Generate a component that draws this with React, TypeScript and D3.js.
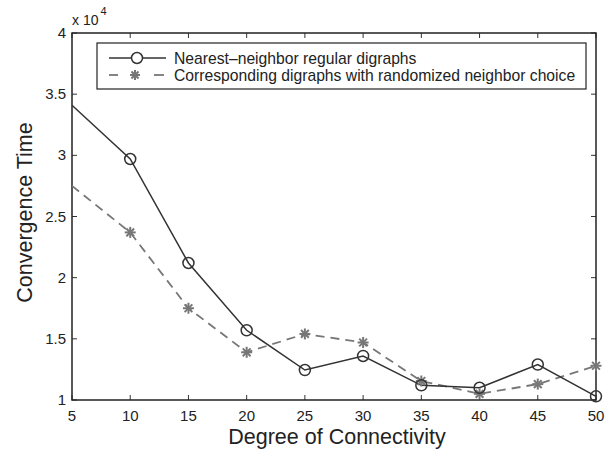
import React, { useRef, useEffect } from 'react';
import * as d3 from 'd3';

const degrees = [5, 10, 15, 20, 25, 30, 35, 40, 45, 50];
const nearestNeighbor = [3.41, 2.97, 2.12, 1.57, 1.245, 1.36, 1.12, 1.1, 1.29, 1.03];
const randomized = [2.75, 2.37, 1.75, 1.39, 1.54, 1.47, 1.155, 1.05, 1.13, 1.28];
const xTicks = [5, 10, 15, 20, 25, 30, 35, 40, 45, 50];
const yTicks = [1, 1.5, 2, 2.5, 3, 3.5, 4];
const legendLabels = [
  'Nearest\u2013neighbor regular digraphs',
  'Corresponding digraphs with randomized neighbor choice',
];

export default function App() {
  const ref = useRef<SVGSVGElement | null>(null);

  useEffect(() => {
    if (!ref.current) return;
    const svg = d3.select(ref.current);
    svg.selectAll('*').remove();

    const width = 613;
    const height = 452;
    const margin = { top: 33, right: 17, bottom: 52, left: 72 };
    const iw = width - margin.left - margin.right;
    const ih = height - margin.top - margin.bottom;
    const font = 'Liberation Sans, Arial, Helvetica, sans-serif';
    const dark = '#333';
    const gray = '#777';

    const x = d3.scaleLinear().domain([5, 50]).range([0, iw]);
    const y = d3.scaleLinear().domain([1, 4]).range([ih, 0]);

    const g = svg.append('g').attr('transform', `translate(${margin.left},${margin.top})`);

    // ticks (inward, all four sides)
    const tl = 5;
    xTicks.forEach(t => {
      g.append('line').attr('x1', x(t)).attr('x2', x(t)).attr('y1', ih).attr('y2', ih - tl).attr('stroke', dark);
      g.append('line').attr('x1', x(t)).attr('x2', x(t)).attr('y1', 0).attr('y2', tl).attr('stroke', dark);
      g.append('text')
        .attr('x', x(t)).attr('y', ih + 21)
        .attr('text-anchor', 'middle')
        .attr('font-family', font).attr('font-size', 15).attr('fill', '#222')
        .text(t);
    });
    yTicks.forEach(t => {
      g.append('line').attr('x1', 0).attr('x2', tl).attr('y1', y(t)).attr('y2', y(t)).attr('stroke', dark);
      g.append('line').attr('x1', iw).attr('x2', iw - tl).attr('y1', y(t)).attr('y2', y(t)).attr('stroke', dark);
      g.append('text')
        .attr('x', -6).attr('y', y(t) + 5)
        .attr('text-anchor', 'end')
        .attr('font-family', font).attr('font-size', 15).attr('fill', '#222')
        .text(t);
    });

    // frame
    g.append('rect').attr('x', 0).attr('y', 0).attr('width', iw).attr('height', ih)
      .attr('fill', 'none').attr('stroke', '#222').attr('stroke-width', 1.5);

    // exponent label
    const ex = svg.append('text')
      .attr('x', 72).attr('y', 25)
      .attr('font-family', font).attr('font-size', 14).attr('fill', '#222');
    ex.append('tspan').text('x 10');
    ex.append('tspan').attr('dx', 2).attr('dy', -10).attr('font-size', 11).text('4');

    // axis labels
    svg.append('text')
      .attr('x', margin.left + iw / 2 + 3).attr('y', 444)
      .attr('text-anchor', 'middle')
      .attr('font-family', font).attr('font-size', 21.5).attr('fill', '#222')
      .text('Degree of Connectivity');
    svg.append('text')
      .attr('transform', `translate(32,${margin.top + ih / 2 - 4}) rotate(-90)`)
      .attr('text-anchor', 'middle')
      .attr('font-family', font).attr('font-size', 21.5).attr('fill', '#222')
      .text('Convergence Time');

    const line = d3.line<number>().x((_, i) => x(degrees[i])).y(d => y(d));

    const marks = g.append('g');

    // dashed series
    marks.append('path').datum(randomized)
      .attr('d', line).attr('fill', 'none')
      .attr('stroke', gray).attr('stroke-width', 1.8)
      .attr('stroke-dasharray', '9 6');

    // solid series
    marks.append('path').datum(nearestNeighbor)
      .attr('d', line).attr('fill', 'none')
      .attr('stroke', dark).attr('stroke-width', 1.5);

    const star = (sel: d3.Selection<SVGGElement, unknown, null, undefined>, cx: number, cy: number, r: number) => {
      const s = sel.append('g').attr('transform', `translate(${cx},${cy})`);
      [0, 45, 90, 135].forEach(a => {
        const rad = (a * Math.PI) / 180;
        s.append('line')
          .attr('x1', -r * Math.cos(rad)).attr('y1', -r * Math.sin(rad))
          .attr('x2', r * Math.cos(rad)).attr('y2', r * Math.sin(rad))
          .attr('stroke', gray).attr('stroke-width', 2);
      });
    };

    randomized.forEach((v, i) => {
      if (degrees[i] === 5) return;
      star(marks, x(degrees[i]), y(v), 5.5);
    });
    nearestNeighbor.forEach((v, i) => {
      if (degrees[i] === 5) return;
      marks.append('circle')
        .attr('cx', x(degrees[i])).attr('cy', y(v)).attr('r', 5.5)
        .attr('fill', 'none').attr('stroke', dark).attr('stroke-width', 1.5);
    });

    // legend
    const lg = svg.append('g');
    lg.append('rect')
      .attr('x', 97).attr('y', 43).attr('width', 489).attr('height', 46)
      .attr('fill', 'white').attr('stroke', '#222').attr('stroke-width', 1.2);
    const rows = [58, 75];
    lg.append('line').attr('x1', 109).attr('x2', 166).attr('y1', rows[0]).attr('y2', rows[0])
      .attr('stroke', dark).attr('stroke-width', 1.5);
    lg.append('circle').attr('cx', 137).attr('cy', rows[0]).attr('r', 5.5)
      .attr('fill', 'white').attr('stroke', dark).attr('stroke-width', 1.5);
    lg.append('line').attr('x1', 109).attr('x2', 118).attr('y1', rows[1]).attr('y2', rows[1])
      .attr('stroke', gray).attr('stroke-width', 1.8);
    star(lg, 135, rows[1], 5);
    lg.append('line').attr('x1', 154).attr('x2', 164).attr('y1', rows[1]).attr('y2', rows[1])
      .attr('stroke', gray).attr('stroke-width', 1.8);
    legendLabels.forEach((l, i) => {
      lg.append('text')
        .attr('x', 174).attr('y', rows[i] + 5.5)
        .attr('font-family', font).attr('font-size', 15.7).attr('fill', '#222')
        .text(l);
    });
  }, []);

  return (
    <svg ref={ref} width={613} height={452}
      style={{ position: 'absolute', left: 0, top: 0, background: 'white' }} />
  );
}
